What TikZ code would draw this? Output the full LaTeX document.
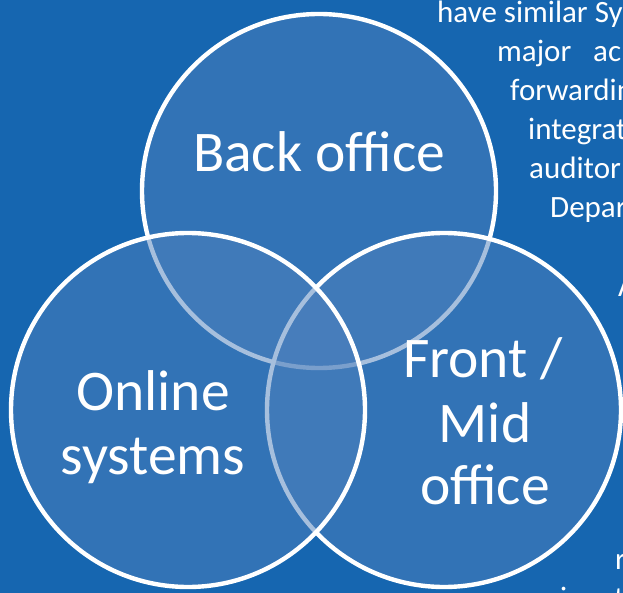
\documentclass[tikz,border=0pt]{standalone}
\usepackage{fontspec}
\setmainfont{Carlito}
\definecolor{bg}{RGB}{22,102,176}
\definecolor{cfill}{RGB}{79,129,189}
\begin{document}
\begin{tikzpicture}[x=1pt,y=-1pt,
  venn/.style={circle, minimum size=354pt, inner sep=0pt, draw=white, line width=4.4pt, fill=cfill, fill opacity=0.5},
  big/.style={text=white, font=\fontsize{57.5}{64}\selectfont, inner sep=0pt, anchor=base},
  small/.style={text=white, font=\fontsize{31}{39}\selectfont, inner sep=0pt, anchor=base west}]
\useasboundingbox (0,0) rectangle (623,593);
\fill[bg] (0,0) rectangle (623,593);
\clip (0,0) rectangle (623,593);
% side text (cut off by the picture's edge)
\node[small] (t1) at (437,23) {have similar Sy};
\node[small] (t2a) at (497,62) {major};
\node[small] (t2b) at (593,62) {ac};
\node[small] (t3) at (510,101) {forwardin};
\node[small] (t4) at (528,140) {integrat};
\node[small] (t5) at (529,179) {auditor};
\node[small] (t6) at (550,218) {Depar};
\node[small] (t7) at (618,296) {A};
\node[small] (t8) at (615,569) {r};
\node[small] (t9a) at (560,608) {i};
\node[small] (t9b) at (614,608) {t};
% circles
\node[venn] (back) at (319,191) {};
\node[venn] (front) at (444,410) {};
\node[venn] (online) at (188,410) {};
% labels
\node[big] (lb) at (319,172) {Back office};
\node[big] (lo1) at (153,410) {Online};
\node[big] (lo2) at (153,474) {systems};
\node[big] (lf1) at (483,377) {Front /};
\node[big] (lf2) at (485,442) {Mid};
\node[big] (lf3) at (485,504) {office};
\end{tikzpicture}
\end{document}
